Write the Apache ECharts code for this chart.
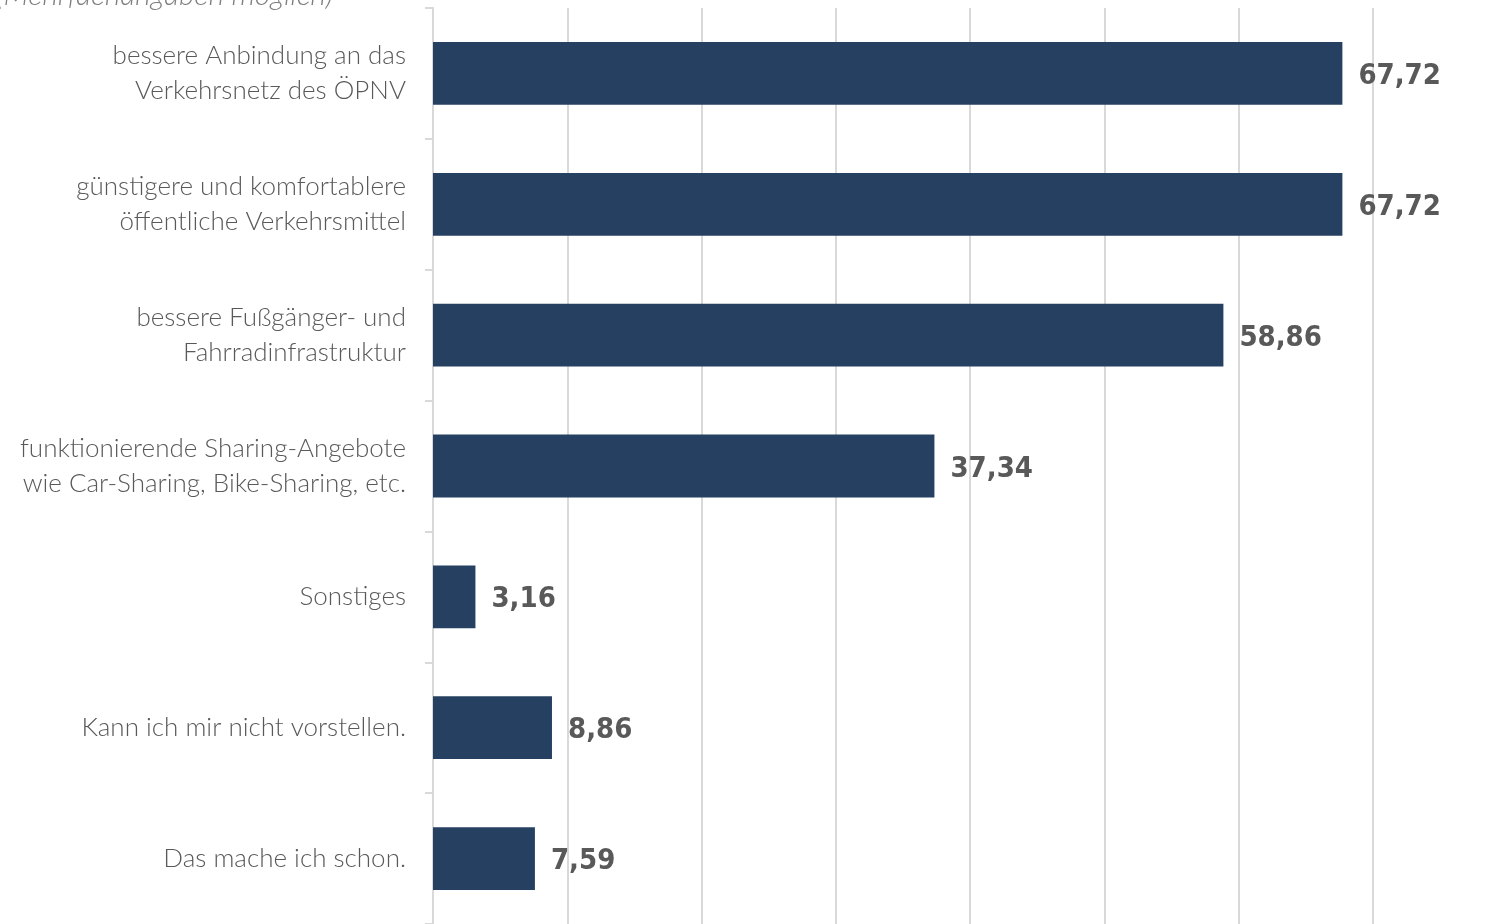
<!DOCTYPE html>
<html><head><meta charset="utf-8">
<script src="https://cdn.jsdelivr.net/npm/echarts@6/dist/echarts.min.js"></script>
<style>html,body{margin:0;padding:0;background:#fff}#c{width:1501px;height:924px}</style>
</head><body><div id="c"></div>
<script>
const categories = [
  "bessere Anbindung an das\nVerkehrsnetz des ÖPNV",
  "günstigere und komfortablere\nöffentliche Verkehrsmittel",
  "bessere Fußgänger- und\nFahrradinfrastruktur",
  "funktionierende Sharing-Angebote\nwie Car-Sharing, Bike-Sharing, etc.",
  "Sonstiges",
  "Kann ich mir nicht vorstellen.",
  "Das mache ich schon."
];
const values = [67.72, 67.72, 58.86, 37.34, 3.16, 8.86, 7.59];
const subtitle = "(Mehrfachangaben möglich)";

const chart = echarts.init(document.getElementById('c'));
chart.setOption({
  animation: false,
  graphic: [{
    type: 'text', left: -4, top: -20,
    style: { text: subtitle, font: 'italic 300 30px Lato', fill: '#7f7f7f' }
  }],
  grid: { left: 433, right: 128, top: 8, bottom: -5, containLabel: false },
  xAxis: {
    type: 'value', min: 0, max: 70, interval: 10,
    axisLabel: { show: false }, axisLine: { show: false }, axisTick: { show: false },
    splitLine: { show: true, lineStyle: { color: '#d9d9d9', width: 2 } }
  },
  yAxis: {
    type: 'category', data: categories, inverse: true,
    axisLine: { show: true, lineStyle: { color: '#d9d9d9', width: 2 } },
    axisTick: { show: true, length: 8, lineStyle: { color: '#d9d9d9', width: 2 } },
    axisLabel: {
      margin: 27, color: '#595959', fontFamily: 'Lato', fontWeight: 300,
      fontSize: 26, lineHeight: 35, align: 'right'
    }
  },
  series: [{
    type: 'bar', data: values, barWidth: '48%',
    itemStyle: { color: '#264061' },
    label: {
      show: true, position: 'right', distance: 16, offset: [0, 3],
      color: '#595959', fontFamily: 'DejaVu Sans Condensed', fontWeight: 'bold', fontSize: 29,
      formatter: p => p.value.toFixed(2).replace('.', ',')
    }
  }]
});
</script></body></html>
